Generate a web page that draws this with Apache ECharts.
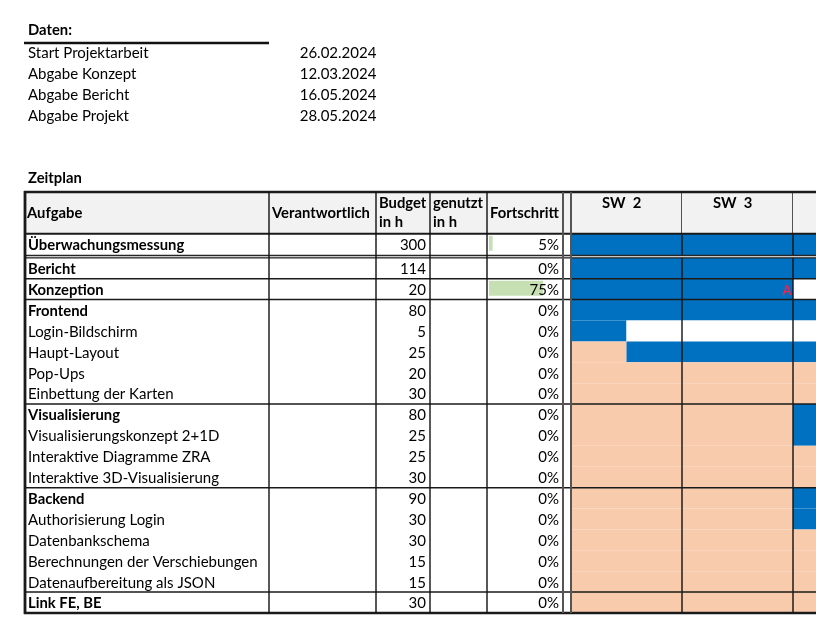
<!DOCTYPE html>
<html lang="de">
<head>
<meta charset="utf-8">
<title>Zeitplan</title>
<script src="https://cdn.jsdelivr.net/npm/echarts@6/dist/echarts.min.js"></script>
<style>
  html, body { margin: 0; padding: 0; background: #fff; }
  #chart { width: 816px; height: 638px; }
</style>
</head>
<body>
<div id="chart"></div>
<script>
// Termine
const milestones = ['Start Projektarbeit', 'Abgabe Konzept', 'Abgabe Bericht', 'Abgabe Projekt'];
const milestoneDates = ['26.02.2024', '12.03.2024', '16.05.2024', '28.05.2024'];

// Aufgaben (Ebene 0 = Hauptaufgabe, fett gedruckt)
const tasks = [
  'Überwachungsmessung', 'Bericht', 'Konzeption', 'Frontend', 'Login-Bildschirm', 'Haupt-Layout',
  'Pop-Ups', 'Einbettung der Karten', 'Visualisierung', 'Visualisierungskonzept 2+1D',
  'Interaktive Diagramme ZRA', 'Interaktive 3D-Visualisierung', 'Backend', 'Authorisierung Login',
  'Datenbankschema', 'Berechnungen der Verschiebungen', 'Datenaufbereitung als JSON', 'Link FE, BE'
];
const taskLevel = [0, 0, 0, 0, 1, 1, 1, 1, 0, 1, 1, 1, 0, 1, 1, 1, 1, 0];
const budget = [300, 114, 20, 80, 5, 25, 20, 30, 80, 25, 25, 30, 90, 30, 30, 15, 15, 30];
const used = [null, null, null, null, null, null, null, null, null, null, null, null, null, null, null, null, null, null];
const progress = [5, 0, 75, 0, 0, 0, 0, 0, 0, 0, 0, 0, 0, 0, 0, 0, 0, 0];

// Wochen und Belegung je halbe Woche: P = geplant, O = offen, - = frei
const weeks = ['SW  2', 'SW  3', 'SW  4'];
const schedule = [
  'PPPPPP', 'PPPPPP', 'PPPP--', 'PPPPPP', 'P-----', 'OPPPPP',
  'OOOOOO', 'OOOOOO', 'OOOOPP', 'OOOOPP', 'OOOOOO', 'OOOOOO',
  'OOOOPP', 'OOOOPP', 'OOOOOO', 'OOOOOO', 'OOOOOO', 'OOOOOO'
];

// Abgabe-Markierung im Zeitplan
const markTask = [2];
const markWeek = [2];
const markLabel = ['A'];

// ---- Layout ----
const FONT = 'Lato';
const FS = 15;       // normale Schrift
const FS_BOLD = 15;  // fett
const headers = ['Aufgabe', 'Verantwortlich', 'Budget\nin h', 'genutzt\nin h', 'Fortschritt', ''];
const colEdges = [0, 245, 352, 406, 463, 539, 547]; // Spaltengrenzen der Tabelle
const WEEK_PX = 111;
const HEAD = [-3.15, -1.15];
const colors = { P: '#0070C0', O: '#F8CBAD', '-': '#FFFFFF' };

function rowRange(i) {
  return i === 0 ? [-1.15, -0.12] : [i - 1, i];
}

function txt(text, x, y, opt) {
  const o = opt || {};
  return {
    type: 'text',
    style: Object.assign({
      text: text, x: x, y: y, fill: '#000', fontFamily: FONT,
      fontSize: o.fontWeight === 'bold' ? FS_BOLD : FS,
      verticalAlign: 'middle', align: 'left'
    }, o)
  };
}

function line(x1, y1, x2, y2, w, c) {
  return { type: 'line', shape: { x1, y1, x2, y2 }, style: { stroke: c, lineWidth: w } };
}

const chart = echarts.init(document.getElementById('chart'));
const ganttWidth = 816 - 571;

function renderMilestone(params, api) {
  const i = api.value(1);
  const y = api.coord([0, -9.78 + i])[1];
  return {
    type: 'group',
    children: [
      txt(milestones[i], api.coord([4, 0])[0], y),
      txt(milestoneDates[i], api.coord([275.7, 0])[0], y)
    ]
  };
}

function renderHeader(params, api) {
  const c = api.value(1);
  const x0 = api.coord([colEdges[c], 0])[0];
  const x1 = api.coord([colEdges[c + 1], 0])[0];
  const top = api.coord([0, HEAD[0]])[1];
  const bottom = api.coord([0, HEAD[1]])[1];
  return {
    type: 'group',
    children: [
      { type: 'rect', shape: { x: x0, y: top, width: x1 - x0, height: bottom - top }, style: { fill: '#F2F2F2' } },
      txt(headers[c], x0 + 3, top + 21, { fontWeight: 'bold', fontSize: 14.8, lineHeight: 19 })
    ]
  };
}

function renderTask(params, api) {
  const i = api.value(1);
  const r = rowRange(i);
  const top = api.coord([0, r[0]])[1];
  const bottom = api.coord([0, r[1]])[1];
  const mid = (top + bottom) / 2 + 1;
  const x = e => api.coord([e, 0])[0];
  const barMax = x(colEdges[5]) - x(colEdges[4]) - 4;
  const children = [
    txt(tasks[i], x(colEdges[0]) + 4, mid, taskLevel[i] === 0 ? { fontWeight: 'bold', fontSize: 14.8 } : {}),
    txt(String(budget[i]), x(colEdges[3]) - 4, mid, { align: 'right' })
  ];
  if (used[i] != null) {
    children.push(txt(String(used[i]), x(colEdges[4]) - 4, mid, { align: 'right' }));
  }
  if (progress[i] > 0) {
    children.push({
      type: 'rect',
      shape: { x: x(colEdges[4]) + 2, y: top + 2, width: barMax * progress[i] / 100, height: 15 },
      style: { fill: '#C6E0B4' }
    });
  }
  children.push(txt(progress[i] + '%', x(colEdges[5]) - 4, mid, { align: 'right' }));
  return { type: 'group', children };
}

// zusammenhaengende Abschnitte gleicher Belegung als ein Block
function renderCell(params, api) {
  const start = api.value(0);
  const end = api.value(1);
  const i = api.value(2);
  const code = schedule[i][api.value(3)];
  const r = rowRange(i);
  const p0 = api.coord([start, r[0]]);
  const p1 = api.coord([end, r[1]]);
  return {
    type: 'rect',
    shape: { x: p0[0], y: p0[1], width: p1[0] - p0[0], height: p1[1] - p0[1] },
    style: { fill: colors[code] }
  };
}

function renderWeek(params, api) {
  const w = api.value(0);
  const x0 = api.coord([w, 0])[0];
  const x1 = api.coord([w + 1, 0])[0];
  const top = api.coord([0, HEAD[0]])[1];
  const headBottom = api.coord([0, HEAD[1]])[1];
  const bottom = api.coord([0, tasks.length - 1])[1];
  return {
    type: 'group',
    children: [
      { type: 'rect', shape: { x: x0, y: top, width: x1 - x0, height: headBottom - top }, style: { fill: '#F2F2F2' } },
      txt(weeks[w], x0 + 31, top + 11, { fontWeight: 'bold', fontSize: 14.8 }),
      line(x1, top, x1, bottom, 1.4, '#111')
    ]
  };
}

function renderMark(params, api) {
  const i = api.value(1);
  const r = rowRange(markTask[i]);
  const p = api.coord([markWeek[i], (r[0] + r[1]) / 2]);
  return txt(markLabel[i], p[0] - 1.5, p[1] + 1.5, { align: 'right', fill: '#F5204A', fontWeight: 'bold', fontSize: 13 });
}

function renderFrame(params, api) {
  const xPx = e => api.coord([e, 0])[0];
  const yPx = v => api.coord([0, v])[1];
  const left = xPx(0);
  const right = api.getWidth();
  const top = yPx(HEAD[0]);
  const bottom = yPx(tasks.length - 1);
  const dark = '#1a1a1a';
  const children = [
    { type: 'rect', shape: { x: left, y: yPx(-0.12), width: right - left, height: yPx(0) - yPx(-0.12) }, style: { fill: '#C8C8C8' } },
    line(left, yPx(-0.12), right, yPx(-0.12), 1.3, '#262626'),
    line(left, yPx(0), right, yPx(0), 1.3, '#262626'),
    line(left, top, right, top, 2.4, dark),
    line(left, yPx(HEAD[1]), right, yPx(HEAD[1]), 2, dark),
    line(left, bottom, right, bottom, 2.6, dark)
  ];
  for (let i = 2; i < tasks.length; i++) {
    if (taskLevel[i] === 0) children.push(line(left, yPx(i - 1), right, yPx(i - 1), 1.5, dark));
  }
  for (let c = 1; c < colEdges.length; c++) {
    const grey = c >= 5;
    children.push(line(xPx(colEdges[c]), top, xPx(colEdges[c]), bottom, grey ? 2 : 1.4, grey ? '#555' : '#111'));
  }
  children.push(line(left + 1, top - 1, left + 1, bottom + 1, 2.8, dark));
  return { type: 'group', children };
}

const ganttData = [];
schedule.forEach((row, i) => {
  let h = 0;
  while (h < row.length) {
    let e = h;
    while (e + 1 < row.length && row[e + 1] === row[h]) e++;
    ganttData.push([h / 2, (e + 1) / 2, i, h]);
    h = e + 1;
  }
});

const option = {
  animation: false,
  graphic: [
    { type: 'text', left: 28, top: 23, style: { text: 'Daten:', fontFamily: FONT, fontSize: 14.8, fontWeight: 'bold', fill: '#000' } },
    { type: 'rect', left: 24, top: 41.7, shape: { width: 245, height: 2.6 }, style: { fill: '#111' } },
    { type: 'text', left: 28, top: 171, style: { text: 'Zeitplan', fontFamily: FONT, fontSize: 14.8, fontWeight: 'bold', fill: '#000' } }
  ],
  grid: [
    { left: 24, top: 0, width: 547, height: 613 },
    { left: 571, top: 0, width: ganttWidth, height: 613 }
  ],
  xAxis: [
    { type: 'value', gridIndex: 0, min: 0, max: 547, show: false },
    { type: 'value', gridIndex: 1, min: 0, max: ganttWidth / WEEK_PX, show: false }
  ],
  yAxis: [
    { type: 'value', gridIndex: 0, min: -12.34, max: 17, inverse: true, show: false },
    { type: 'value', gridIndex: 1, min: -12.34, max: 17, inverse: true, show: false }
  ],
  series: [
    { type: 'custom', name: 'Termine', xAxisIndex: 0, yAxisIndex: 0, renderItem: renderMilestone,
      data: milestones.map((m, i) => [0, i]), silent: true },
    { type: 'custom', name: 'Zeitplan', xAxisIndex: 1, yAxisIndex: 1, renderItem: renderCell,
      encode: { x: [0, 1], y: 2 }, data: ganttData, silent: true, z: 1 },
    { type: 'custom', name: 'Kopf', xAxisIndex: 0, yAxisIndex: 0, renderItem: renderHeader,
      data: headers.map((h, i) => [colEdges[i], i]), silent: true, z: 2 },
    { type: 'custom', name: 'Aufgaben', xAxisIndex: 0, yAxisIndex: 0, renderItem: renderTask,
      data: tasks.map((t, i) => [0, i]), silent: true, z: 3 },
    { type: 'custom', name: 'Rahmen', xAxisIndex: 0, yAxisIndex: 0, renderItem: renderFrame,
      data: [[0, 0]], silent: true, z: 5 },
    { type: 'custom', name: 'Wochen', xAxisIndex: 1, yAxisIndex: 1, renderItem: renderWeek,
      data: weeks.map((w, i) => [i, 0]), silent: true, z: 4 },
    { type: 'custom', name: 'Abgabe', xAxisIndex: 1, yAxisIndex: 1, renderItem: renderMark,
      data: markLabel.map((m, i) => [markWeek[i], i]), silent: true, z: 6 }
  ]
};

chart.setOption(option);
window.addEventListener('resize', () => chart.resize());
</script>
</body>
</html>
